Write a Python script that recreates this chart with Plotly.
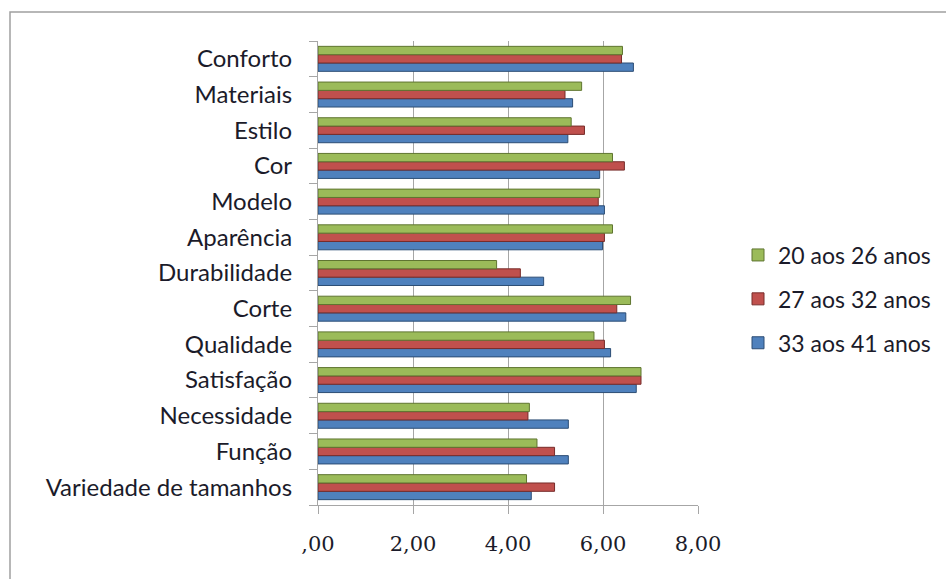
import plotly.graph_objects as go

# Categories listed bottom-to-top (plotly draws the first category at the bottom)
categories = [
    "Variedade de tamanhos", "Função", "Necessidade", "Satisfação", "Qualidade",
    "Corte", "Durabilidade", "Aparência", "Modelo", "Cor", "Estilo",
    "Materiais", "Conforto",
]

age_20_26 = [4.39, 4.61, 4.45, 6.80, 5.81, 6.58, 3.76, 6.20, 5.93, 6.20, 5.33, 5.55, 6.41]
age_27_32 = [4.98, 4.98, 4.42, 6.80, 6.03, 6.29, 4.26, 6.03, 5.90, 6.45, 5.61, 5.20, 6.39]
age_33_41 = [4.49, 5.27, 5.27, 6.70, 6.16, 6.48, 4.75, 5.99, 6.03, 5.93, 5.26, 5.36, 6.64]

x_ticks = [0, 2, 4, 6, 8]
x_tick_labels = [",00", "2,00", "4,00", "6,00", "8,00"]

# (name, values, fill, edge, legend rank) - first trace sits lowest in each group
series = [
    ("33 aos 41 anos", age_33_41, "#4F81BD", "#2C4D75", 3),
    ("27 aos 32 anos", age_27_32, "#C0504D", "#772C2A", 2),
    ("20 aos 26 anos", age_20_26, "#9BBB59", "#5F7530", 1),
]

fig = go.Figure()
for name, vals, fill, edge, rank in series:
    fig.add_trace(go.Bar(
        y=categories, x=vals, name=name, orientation="h",
        marker=dict(color=fill, line=dict(color=edge, width=1)),
        legendgroup=name, legendrank=rank,
    ))

text_font = dict(family="Lato, 'Open Sans', sans-serif", size=24, color="#1b1b2a")
legend_font = dict(family="Lato, 'Open Sans', sans-serif", size=23, color="#1b1b2a")

# Plot area in pixels: x from 318 to 698, y from 41 to 505
L, R, T, B = 318, 248, 41, 74
W, H = 946, 579
pw, ph = W - L - R, H - T - B

def px_x(p):
    return (p - L) / pw

def px_y(p):
    return (H - B - p) / ph

fig.update_layout(
    width=W, height=H,
    margin=dict(l=L, r=R, t=T, b=B, pad=0, autoexpand=False),
    paper_bgcolor="white", plot_bgcolor="white",
    barmode="group", bargap=0.3, bargroupgap=0,
    showlegend=True,
    legend=dict(
        x=px_x(738), y=px_y(299), xanchor="left", yanchor="middle",
        traceorder="grouped", tracegroupgap=11,
        font=legend_font, itemwidth=30, bgcolor="rgba(0,0,0,0)",
    ),
    xaxis=dict(
        range=[0, 8], tickvals=x_ticks, ticktext=x_tick_labels,
        showgrid=True, gridcolor="#a6a6a6", gridwidth=1.2,
        showline=True, linecolor="#a6a6a6", linewidth=1.2,
        ticks="outside", ticklen=8, tickcolor="#a6a6a6", tickwidth=1.2,
        tickfont=dict(family="'DejaVu Serif', serif", size=21, color="#1b1b2a"),
        ticklabelstandoff=12, zeroline=False, fixedrange=True,
    ),
    yaxis=dict(
        type="category", categoryorder="array", categoryarray=categories,
        range=[-0.5, len(categories) - 0.5],
        showline=True, linecolor="#a6a6a6", linewidth=1.2,
        ticks="outside", ticklen=8, tickcolor="#a6a6a6", tickwidth=1.2,
        tickson="boundaries", showgrid=False,
        tickfont=text_font, ticklabelstandoff=20, fixedrange=True,
    ),
    shapes=[dict(
        type="rect", xref="paper", yref="paper",
        x0=px_x(10), x1=px_x(980), y0=px_y(12), y1=px_y(620),
        line=dict(color="#a0a0a0", width=1.5), fillcolor="rgba(0,0,0,0)",
        layer="below",
    )],
)

fig.write_html("out.html")
